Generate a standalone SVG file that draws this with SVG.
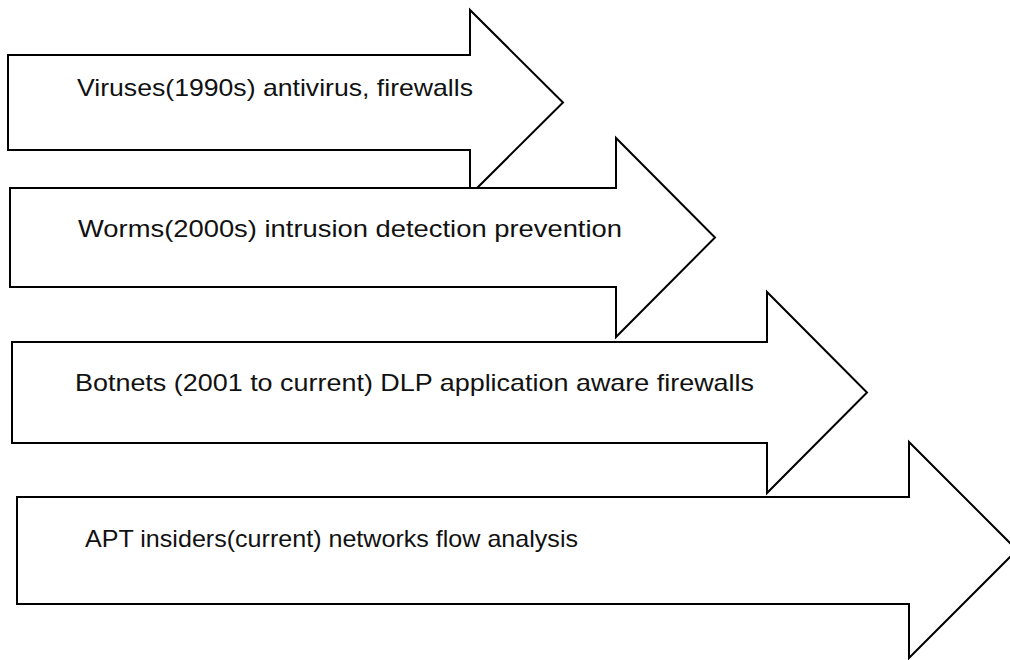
<svg xmlns="http://www.w3.org/2000/svg" width="1010" height="660" viewBox="0 0 1010 660">
<style>
.arrow{fill:#ffffff;stroke:#000000;stroke-width:2;stroke-linejoin:miter}
.lbl{font-family:"Liberation Sans",Arial,sans-serif;font-size:24px;fill:#111111}
</style>
<rect width="1010" height="660" fill="#ffffff"/>
<g id="connectors"></g>
<g id="arrow1">
<polygon class="arrow" points="8,55 470,55 470,10 563,102.5 470,195 470,150 8,150"/>
<text class="lbl" x="77" y="96" textLength="396" lengthAdjust="spacingAndGlyphs">Viruses(1990s) antivirus, firewalls</text>
</g>
<g id="arrow2">
<polygon class="arrow" points="10,188 616,188 616,138 715,237.5 616,337 616,287 10,287"/>
<text class="lbl" x="78" y="237" textLength="544" lengthAdjust="spacingAndGlyphs">Worms(2000s) intrusion detection prevention</text>
</g>
<g id="arrow3">
<polygon class="arrow" points="12,342 767,342 767,292 867,392.5 767,493 767,443 12,443"/>
<text class="lbl" x="75" y="391" textLength="679" lengthAdjust="spacingAndGlyphs">Botnets (2001 to current) DLP application aware firewalls</text>
</g>
<g id="arrow4">
<polygon class="arrow" points="17,497 909,497 909,442 1017,550 909,658 909,604 17,604"/>
<text class="lbl" x="85" y="547" textLength="493" lengthAdjust="spacingAndGlyphs">APT insiders(current) networks flow analysis</text>
</g>
</svg>
